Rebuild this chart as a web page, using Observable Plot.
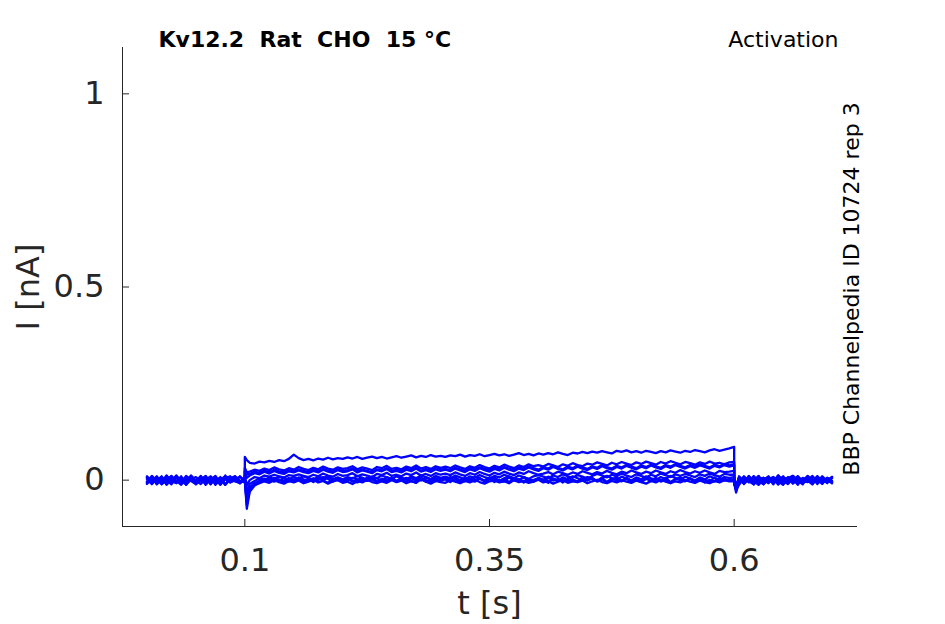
<!DOCTYPE html>
<html><head><meta charset="utf-8">
<script src="https://cdn.jsdelivr.net/npm/d3@7"></script>
<script src="https://cdn.jsdelivr.net/npm/@observablehq/plot@0.6"></script>
<style>body{margin:0;background:#fff;}</style>
</head><body><div id="chart"></div>
<script>
// time samples [s]; the step edges at 0.1 s and 0.6 s appear twice (before / after the jump)
const time = [
  0,0.005,0.01,0.015,0.02,0.025,0.03,0.035,0.04,0.045,0.05,0.055,0.06,0.065,0.07,0.075,0.08,0.085,0.09,0.095,0.1,
  0.1,0.102,
  0.105,0.11,0.115,0.12,0.125,0.13,0.135,0.14,0.145,0.15,
  0.155,0.16,0.165,0.17,0.175,0.18,0.185,0.19,0.195,0.2,
  0.205,0.21,0.215,0.22,0.225,0.23,0.235,0.24,0.245,0.25,
  0.255,0.26,0.265,0.27,0.275,0.28,0.285,0.29,0.295,0.3,
  0.305,0.31,0.315,0.32,0.325,0.33,0.335,0.34,0.345,0.35,
  0.355,0.36,0.365,0.37,0.375,0.38,0.385,0.39,0.395,0.4,
  0.405,0.41,0.415,0.42,0.425,0.43,0.435,0.44,0.445,0.45,
  0.455,0.46,0.465,0.47,0.475,0.48,0.485,0.49,0.495,0.5,
  0.505,0.51,0.515,0.52,0.525,0.53,0.535,0.54,0.545,0.55,
  0.555,0.56,0.565,0.57,0.575,0.58,0.585,0.59,0.595,
  0.6,
  0.6,0.602,
  0.605,0.61,0.615,0.62,0.625,0.63,0.635,0.64,0.645,0.65,0.655,0.66,0.665,0.67,0.675,0.68,0.685,0.69,0.695,0.7];

// currents in pA (converted to nA below)
const trace1 = [6,-10,3,-5,11,-2,-8,5,-12,2,8,-3,10,-6,0,5,-11,6,-3,9,-5,
  60,52,
  45,43,48,46,50,47,52,49,55,66,
  57,52,55,51,56,53,58,54,57,55,
  59,56,60,55,58,61,57,60,56,59,
  62,58,61,64,59,63,60,65,61,63,
  60,64,62,66,61,65,63,67,62,65,
  68,64,67,63,66,70,65,68,64,69,
  66,70,67,72,68,65,71,69,73,70,
  74,71,75,72,69,76,73,77,72,75,
  71,76,73,70,75,72,77,74,71,76,
  73,78,75,72,77,80,76,79,82,
  86,
  -8,-24, -12,5,-6,10,-2,-11,6,-5,12,-3,8,-9,2,-6,11,-2,5,-8,3,-5];
const trace2 = [-5,8,-11,3,-2,10,-6,5,-10,12,-3,2,-8,6,-12,3,9,-5,0,-8,5,
  32,20,
  22,27,24,30,26,33,28,25,31,27,
  34,29,26,32,28,35,30,27,33,29,
  31,36,28,33,30,26,34,31,37,29,
  32,28,35,31,38,30,34,29,36,32,
  35,31,38,33,29,36,32,39,34,30,
  37,33,40,35,31,38,34,41,36,39,
  35,42,38,34,41,37,44,39,36,43,
  40,46,42,38,45,41,47,43,39,46,
  42,48,44,40,47,43,49,45,41,47,
  44,40,46,42,48,43,45,41,46,
  47,
  -6,-27, 3,-8,11,-5,6,-10,2,8,-3,-12,5,-2,10,-6,3,-11,6,0,-5,8];
const trace3 = [10,-3,6,-11,2,-6,12,-2,-8,5,-5,11,-10,3,-3,8,-12,2,6,-6,3,
  22,6,
  12,18,15,22,17,24,19,16,23,20,
  25,21,18,24,20,27,22,19,26,21,
  23,28,20,25,22,18,26,23,29,21,
  24,20,27,23,30,22,26,21,28,24,
  27,23,30,25,21,28,24,31,26,22,
  29,25,32,27,23,30,26,33,28,24,
  31,27,34,29,25,32,28,35,30,26,
  33,29,36,31,27,34,30,37,32,28,
  35,31,38,33,29,36,32,39,34,30,
  36,32,38,34,30,37,33,39,35,
  38,
  -3,-20, 8,-5,2,-11,6,-2,10,-6,3,-10,5,11,-3,-8,2,6,-5,10,-2,-6];
const trace4 = [-8,5,-3,10,-12,2,6,-5,11,-2,-10,3,8,-6,0,-11,5,10,-3,-8,2,
  12,-14,
  0,8,5,12,9,14,10,7,13,11,
  15,11,8,14,10,17,12,9,16,11,
  13,18,10,15,12,8,16,13,19,11,
  14,10,17,13,20,12,16,11,18,14,
  17,13,20,15,11,18,14,21,16,12,
  19,15,22,17,13,20,16,23,18,14,
  17,21,15,22,18,14,20,16,23,19,
  15,21,17,24,19,15,22,18,25,20,
  16,22,18,25,20,16,23,19,26,21,
  17,23,19,25,20,16,24,21,22,
  24,
  -9,-24, 5,-6,10,-3,-12,2,8,-5,6,-10,3,11,-2,-8,5,-3,10,-6,2,-5];
const trace5 = [3,-10,8,-5,12,-2,-6,10,-11,5,-3,6,-12,2,11,-8,3,-5,10,-2,-6,
  6,-30,
  -10,-2,4,1,7,3,9,5,2,8,
  4,10,6,1,9,5,11,3,7,2,
  8,4,11,6,1,9,5,12,7,3,
  10,6,2,9,5,12,8,3,11,6,
  9,4,12,7,2,10,6,13,8,4,
  11,7,14,9,5,12,8,3,10,13,
  9,5,12,8,15,10,6,13,9,4,
  11,16,12,7,14,10,17,12,8,15,
  11,6,14,10,17,13,8,15,11,16,
  12,8,15,11,17,13,9,16,14,
  14,
  -5,-19, 6,-10,3,-2,11,-6,5,-11,8,-3,2,10,-8,5,-2,-10,6,3,-5,8];
const trace6 = [-6,11,-3,5,-10,8,-2,-12,3,10,-5,0,6,-11,5,-8,12,-3,2,-6,8,
  2,-45,
  -18,-8,-2,4,-1,6,1,-3,5,0,
  7,2,-2,5,0,8,3,-4,6,1,
  -1,6,2,-3,7,1,5,-2,8,3,
  -2,6,1,9,4,-1,7,2,-3,5,
  1,8,3,-2,6,0,9,4,-1,7,
  2,-3,5,10,4,0,8,3,-2,6,
  1,9,4,-1,7,2,10,5,0,8,
  3,-2,6,11,5,0,9,4,-1,7,
  2,10,5,0,8,3,11,6,1,9,
  4,-1,7,2,10,5,0,8,6,
  8,
  6,-14, -8,5,-3,10,-11,2,6,-5,12,-2,-10,3,8,-6,0,11,-5,3,-8,5];
const trace7 = [5,-3,10,-8,2,-11,6,0,-5,11,-2,-10,3,8,-6,2,-12,5,10,-3,0,
  0,-74,
  -30,-14,-6,-1,3,-4,2,-6,5,-2,
  1,-5,4,-3,6,-1,-7,3,0,-4,
  5,-2,-6,3,-1,7,-4,2,-5,4,
  -3,1,6,-2,-7,4,0,-5,3,-1,
  7,-3,2,-6,5,-1,-4,4,-2,6,
  -5,1,-3,7,-1,3,-6,2,-4,5,
  0,-7,4,-2,6,-3,1,-5,3,-1,
  6,-4,2,-6,5,0,-3,7,-2,1,
  -5,3,-1,6,-4,2,-7,4,0,-3,
  5,-2,3,-6,1,-4,6,-1,2,
  2,
  -8,-32, -5,8,-3,-11,6,2,-8,5,-2,10,-6,3,-12,6,0,-5,10,-3,2,-8];
const trace8 = [-10,3,-5,8,-2,11,-6,2,-11,5,-3,10,-8,0,6,-12,3,-5,8,-2,-3,
  -3,-56,
  -24,-12,-8,-3,-7,0,-5,-9,-2,-6,
  -1,-8,-4,1,-6,-2,-9,-3,0,-7,
  -4,-10,-2,-6,1,-5,-8,-3,-7,0,
  -5,-1,-8,-3,-6,2,-4,-9,-2,-5,
  -7,0,-4,-8,-2,-6,1,-5,-9,-3,
  -1,-6,-3,-8,0,-5,-2,-7,-4,1,
  -6,-2,-9,-4,0,-7,-3,-5,-1,-8,
  -3,1,-5,-8,-2,-6,0,-4,-7,-1,
  -5,-9,-2,-6,1,-4,-8,-3,-6,0,
  -4,-7,-1,-5,-8,-2,-6,0,-3,
  -3,
  5,-13, 6,-8,2,-3,10,-10,3,-5,11,-2,-6,5,0,-11,8,-3,2,-8,6,-2];
const trace9 = [8,-5,2,-10,5,-3,11,-8,0,6,-11,3,-2,10,-6,5,-10,2,8,-5,2,
  26,14,
  16,22,19,25,21,27,23,20,26,22,
  28,24,21,27,23,29,25,22,28,24,
  26,30,23,27,24,20,28,25,31,23,
  27,23,30,26,32,24,29,25,31,27,
  29,25,32,28,24,31,27,33,29,26,
  32,28,34,30,26,33,29,35,31,27,
  34,30,37,32,28,35,31,38,33,29,
  36,32,39,34,30,37,33,40,35,31,
  38,34,40,36,32,39,35,41,37,33,
  39,35,41,37,33,40,36,42,38,
  41,
  -7,-23, 10,-3,5,-10,2,6,-6,3,-11,8,-2,5,-8,0,10,-5,3,-10,6,-3];
const trace10 = [-3,8,-6,5,-11,3,10,-2,-8,6,-5,2,11,-10,5,-3,8,-6,0,10,-2,
  4,-64,
  -26,-10,-3,2,-2,4,-1,5,-4,1,
  6,-2,3,-5,4,0,7,-3,2,-1,
  5,-4,1,6,-2,3,-6,4,0,7,
  -3,2,-5,5,-1,8,-4,1,6,-2,
  3,-5,7,0,-3,4,-1,6,-4,2,
  8,-2,3,-5,5,0,7,-3,1,4,
  -4,6,-1,3,-6,5,1,-3,8,0,
  4,-2,6,-5,2,7,-1,3,-4,5,
  0,8,-3,4,-1,6,-5,2,7,-2,
  3,-4,5,1,-3,7,0,4,-2,
  1,
  3,-17, -6,10,-2,5,-10,6,-3,8,-11,2,5,-8,10,-2,-5,6,-10,3,0,8];

const traces = [trace1,trace2,trace3,trace4,trace5,trace6,trace7,trace8,trace9,trace10];
const xTicks = [0.1, 0.35, 0.6];
const yTicks = [0, 0.5, 1];
const titleText = "Kv12.2\u00a0\u00a0Rat\u00a0\u00a0CHO\u00a0\u00a015\u00a0°C";
const protocolText = "Activation";
const sideText = "BBP Channelpedia ID 10724 rep 3";
const xLabel = "t [s]";
const yLabel = "I [nA]";

const rows = traces.flatMap((tr, k) => tr.map((v, j) => ({t: time[j], i: v / 1000, trace: k})));

const ink = "#262626";
const chart = Plot.plot({
  width: 945, height: 624,
  marginLeft: 122, marginRight: 89, marginTop: 47, marginBottom: 98,
  style: {fontFamily: "DejaVu Sans", background: "#fff", color: ink},
  x: {domain: [-0.025, 0.725]},
  y: {domain: [-0.12, 1.12]},
  marks: [
    Plot.frame({anchor: "left", stroke: ink}),
    Plot.frame({anchor: "bottom", stroke: ink}),
    Plot.axisX({ticks: xTicks, tickSize: -7, text: null, label: null, stroke: ink}),
    Plot.axisX({ticks: xTicks, tickSize: 0, tickPadding: 22, fontSize: 32, label: null, tickFormat: d => String(d), fill: ink}),
    Plot.axisY({ticks: yTicks, tickSize: -7, text: null, label: null, stroke: ink}),
    Plot.axisY({ticks: yTicks, tickSize: 0, tickPadding: 18, fontSize: 32, label: null, tickFormat: d => String(d), fill: ink}),
    Plot.line(rows, {x: "t", y: "i", z: "trace", stroke: "#0000ff", strokeWidth: 2.3}),
    Plot.text([titleText], {frameAnchor: "top-left", dx: 36, dy: -8, lineAnchor: "middle", textAnchor: "start", fontWeight: "bold", fontSize: 22, fill: "#000"}),
    Plot.text([protocolText], {frameAnchor: "top-right", dx: -18, dy: -8, lineAnchor: "middle", textAnchor: "end", fontSize: 22, fill: "#000"}),
    Plot.text([sideText], {frameAnchor: "right", dx: -5, dy: 2, rotate: -90, lineAnchor: "middle", textAnchor: "middle", fontSize: 22, fill: "#000"}),
    Plot.text([xLabel], {frameAnchor: "bottom", dy: 77, lineAnchor: "middle", textAnchor: "middle", fontSize: 32, fill: ink}),
    Plot.text([yLabel], {frameAnchor: "left", dx: -94, rotate: -90, lineAnchor: "middle", textAnchor: "middle", fontSize: 32, fill: ink})
  ]
});
document.getElementById("chart").append(chart);
</script>
</body></html>
